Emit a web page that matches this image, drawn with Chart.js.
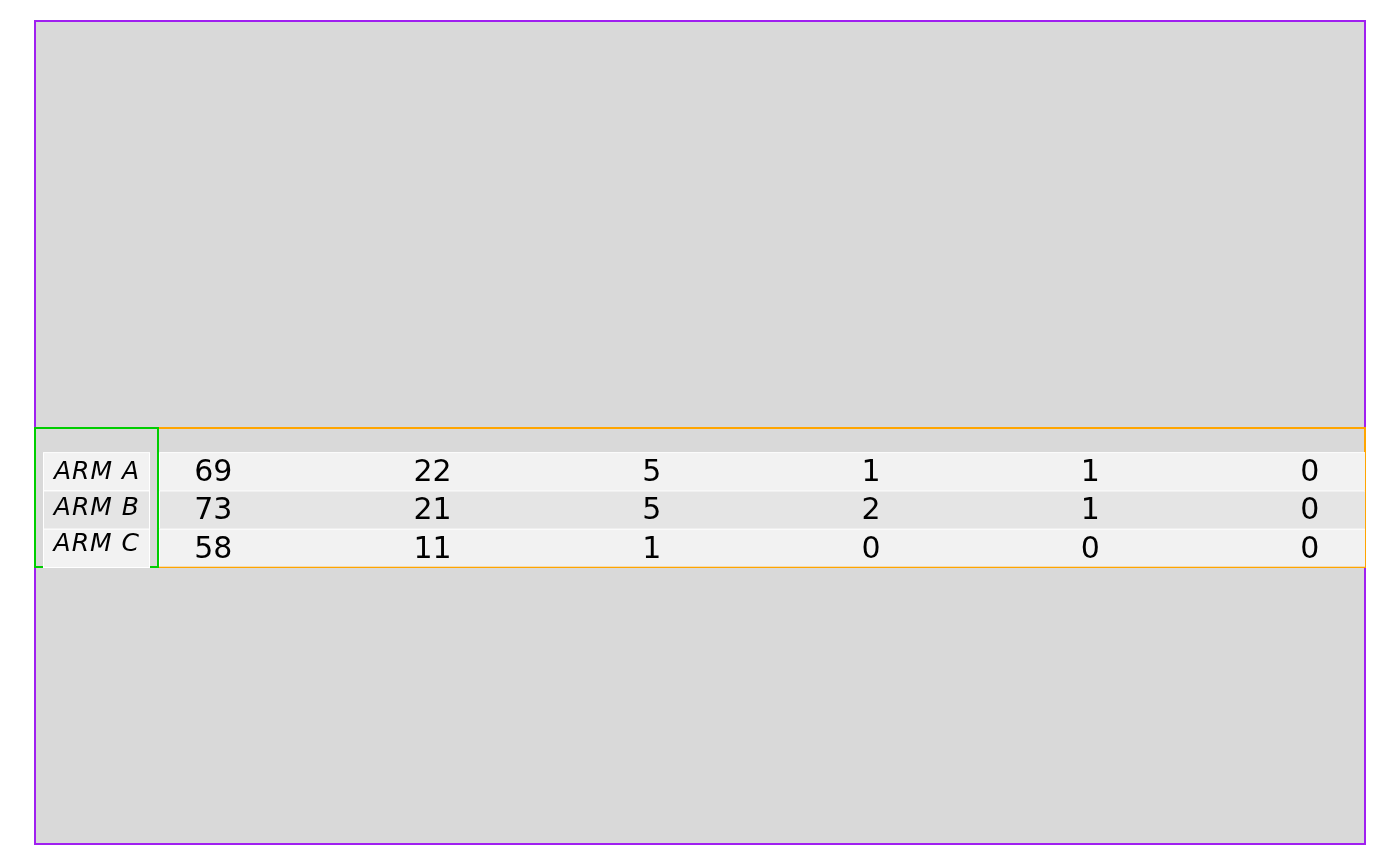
<!DOCTYPE html>
<html>
<head>
<meta charset="utf-8">
<title>Numbers at risk</title>
<script src="https://cdn.jsdelivr.net/npm/chart.js@4/dist/chart.umd.min.js"></script>
<style>
  body { margin: 0; background: #ffffff; }
  #wrap { width: 1400px; height: 866px; }
</style>
</head>
<body>
<div id="wrap"><canvas id="riskTable" width="1400" height="866"></canvas></div>
<script>
//Risk table data
const times = [0, 12, 24, 36, 48, 60];
const arms = ['ARM A', 'ARM B', 'ARM C'];
const armA = [69, 22, 5, 1, 1, 0];
const armB = [73, 21, 5, 2, 1, 0];
const armC = [58, 11, 1, 0, 0, 0];

const counts = [armA, armB, armC];
const rowFills = ['#f2f2f2', '#e5e5e5', '#f2f2f2'];

//row i sits between y = (2 - i) and (3 - i), first arm on top
function rowCenter(i) {
    return arms.length - i - 0.5;
}

var datasets = [];
for(var i = 0; i < arms.length; i++) {
    datasets.push({
        label: arms[i],
        data: times.map(function(t, j) { return { x: t, y: rowCenter(i), n: counts[i][j] }; }),
        pointRadius: 0,
        pointHoverRadius: 0,
        showLine: false
    });
}

//Panels behind the table
const panels = {
    id: 'panels',
    beforeDraw: function(chart) {
        const ctx = chart.ctx;
        const area = chart.chartArea;
        ctx.save();
        ctx.fillStyle = '#ffffff';
        ctx.fillRect(0, 0, chart.width, chart.height);

        //outer plot panel
        ctx.fillStyle = '#d9d9d9';
        ctx.fillRect(35, 21, 1330, 823);
        ctx.strokeStyle = '#a020f0';
        ctx.lineWidth = 2;
        ctx.strokeRect(35, 21, 1330, 823);

        //table panel
        ctx.strokeStyle = '#ffa500';
        ctx.lineWidth = 2;
        ctx.strokeRect(35, area.top, area.right - 35, area.bottom - area.top);

        //label panel
        ctx.strokeStyle = '#00cd00';
        ctx.strokeRect(35, area.top, area.left - 36, area.bottom - area.top);
        ctx.restore();
    },
    beforeDatasetsDraw: function(chart) {
        const ctx = chart.ctx;
        const area = chart.chartArea;
        const y = chart.scales.y;
        ctx.save();
        for(var i = 0; i < arms.length; i++) {
            var top = y.getPixelForValue(rowCenter(i) + 0.5);
            var bottom = y.getPixelForValue(rowCenter(i) - 0.5);
            //number row band
            ctx.fillStyle = '#ffffff';
            ctx.fillRect(area.left, top, area.right - area.left, bottom - top);
            ctx.fillStyle = rowFills[i];
            ctx.fillRect(area.left + 1, top + 1, area.right - area.left - 1, bottom - top - 1);
            //label cell
            ctx.fillStyle = '#ffffff';
            ctx.fillRect(43, top, 107, bottom - top + 1);
            ctx.fillStyle = rowFills[i];
            ctx.fillRect(44, top + 1, 105, bottom - top - 1);
        }
        //faint orange edge under the last row
        ctx.fillStyle = '#f5dcae';
        ctx.fillRect(area.left, area.bottom - 1, area.right - area.left, 1);
        ctx.restore();
    },
    afterDatasetsDraw: function(chart) {
        const ctx = chart.ctx;
        const y = chart.scales.y;
        ctx.save();
        ctx.fillStyle = '#000000';
        ctx.textBaseline = 'middle';

        //counts, one per time point
        ctx.font = '30px "DejaVu Sans"';
        ctx.textAlign = 'center';
        chart.data.datasets.forEach(function(ds, i) {
            chart.getDatasetMeta(i).data.forEach(function(pt, j) {
                ctx.fillText(String(ds.data[j].n), pt.x - 0.5, pt.y + 2);
            });
        });

        //arm labels, slightly squeezed together like the reference
        ctx.font = 'italic 25px "DejaVu Sans"';
        ctx.letterSpacing = '1px';
        ctx.textAlign = 'right';
        for(var i = 0; i < arms.length; i++) {
            var v = 1.5 + (rowCenter(i) - 1.5) * 0.94;
            ctx.fillText(arms[i], 140, y.getPixelForValue(v) - 1);
        }
        ctx.restore();
    }
};

const riskChart = new Chart(document.getElementById('riskTable').getContext('2d'), {
    type: 'scatter',
    data: { datasets: datasets },
    options: {
        responsive: false,
        animation: false,
        events: [],
        layout: {
            padding: { left: 159, right: 35, top: 428, bottom: 299 }
        },
        scales: {
            x: { type: 'linear', min: -3, max: 63, display: false },
            y: { type: 'linear', min: 0, max: 3.63, display: false }
        },
        plugins: {
            legend: { display: false },
            tooltip: { enabled: false },
            title: { display: false }
        }
    },
    plugins: [panels]
});
</script>
</body>
</html>
